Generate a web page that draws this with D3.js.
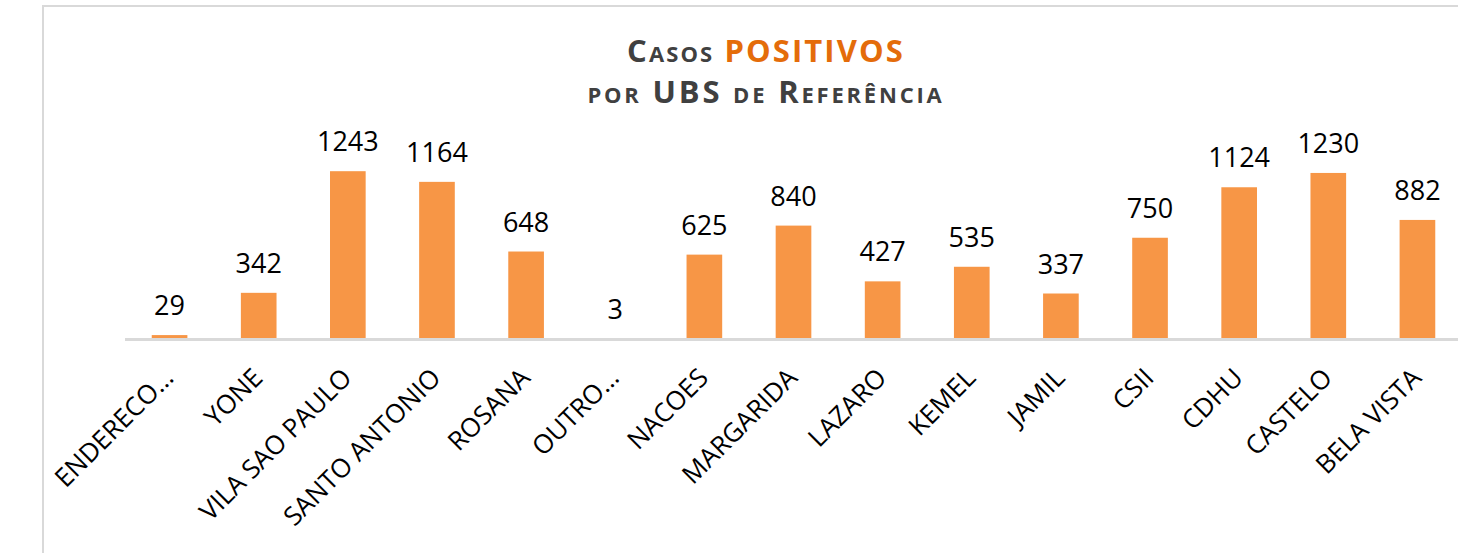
<!DOCTYPE html>
<html>
<head>
<meta charset="utf-8">
<script src="https://cdn.jsdelivr.net/npm/d3@7"></script>
<style>
  body { margin: 0; background: #fff; }
  svg { display: block; }
</style>
</head>
<body>
<svg width="1458" height="553"></svg>
<script>

let categories = ['ENDERECO…', 'YONE', 'VILA SAO PAULO', 'SANTO ANTONIO', 'ROSANA',
                  'OUTRO…', 'NACOES', 'MARGARIDA', 'LAZARO', 'KEMEL',
                  'JAMIL', 'CSII', 'CDHU', 'CASTELO', 'BELA VISTA'];
let positivos = [29, 342, 1243, 1164, 648, 3, 625, 840, 427, 535, 337, 750, 1124, 1230, 882];

let svg = d3.select('svg');

// chart frame (cut off on the right and bottom)
svg.append('rect')
   .attr('x', 43)
   .attr('y', 6)
   .attr('width', 1600)
   .attr('height', 700)
   .attr('fill', '#fff')
   .attr('stroke', '#d9d9d9')
   .attr('stroke-width', 2);

let xScale = d3.scaleBand()
               .domain(categories)
               .range([125, 1462])
               .paddingInner(0.6)
               .paddingOuter(0.3);

let yScale = d3.scaleLinear()
               .domain([0, 1400])
               .range([339, 150]);

// title
let title = svg.append('text')
               .attr('x', 766)
               .attr('y', 62)
               .attr('text-anchor', 'middle')
               .style('font-family', 'Open Sans')
               .style('font-weight', 'bold')
               .style('font-size', '31px')
               .style('letter-spacing', '2.1px');
title.append('tspan')
     .style('font-variant', 'small-caps')
     .attr('fill', '#404040')
     .text('Casos ');
title.append('tspan')
     .attr('fill', '#e46c0a')
     .text('POSITIVOS');

svg.append('text')
   .attr('x', 766)
   .attr('y', 103)
   .attr('text-anchor', 'middle')
   .style('font-family', 'Open Sans')
   .style('font-weight', 'bold')
   .style('font-size', '31px')
   .style('letter-spacing', '2.8px')
   .style('font-variant', 'small-caps')
   .attr('fill', '#404040')
   .text('por UBS de Referência');

// bars
svg.selectAll('rect.bar')
   .data(positivos)
   .enter()
   .append('rect')
   .attr('class', 'bar')
   .attr('x', function(d, i) {
     return xScale(categories[i]);
   })
   .attr('y', function(d) {
     return yScale(d);
   })
   .attr('width', xScale.bandwidth())
   .attr('height', function(d) {
     return yScale(0) - yScale(d);
   })
   .attr('fill', '#f79646');

// value labels
svg.selectAll('text.val')
   .data(positivos)
   .enter()
   .append('text')
   .attr('class', 'val')
   .attr('x', function(d, i) {
     return xScale(categories[i]) + xScale.bandwidth() / 2;
   })
   .attr('y', function(d) {
     return yScale(d) - 20;
   })
   .attr('text-anchor', 'middle')
   .style('font-family', 'Open Sans')
   .style('font-size', '27px')
   .attr('fill', '#000')
   .text(function(d) { return d; });

// category axis
let xAxis = d3.axisBottom(xScale)
              .tickSize(0)
              .tickSizeOuter(0);

let xAxisG = svg.append('g')
                .attr('id', 'xAxisG')
                .attr('transform', 'translate(0,' + yScale(0) + ')')
                .call(xAxis);

xAxisG.select('.domain')
      .attr('d', 'M125,0.5H1470')
      .attr('stroke', '#d9d9d9')
      .attr('stroke-width', 3);

xAxisG.selectAll('.tick text')
      .attr('x', 0)
      .attr('y', 0)
      .attr('dy', '0.35em')
      .attr('transform', 'translate(-1,34) rotate(-45)')
      .attr('text-anchor', 'end')
      .style('font-family', 'Open Sans')
      .style('font-size', '26px')
      .attr('fill', '#000');

</script>
</body>
</html>
